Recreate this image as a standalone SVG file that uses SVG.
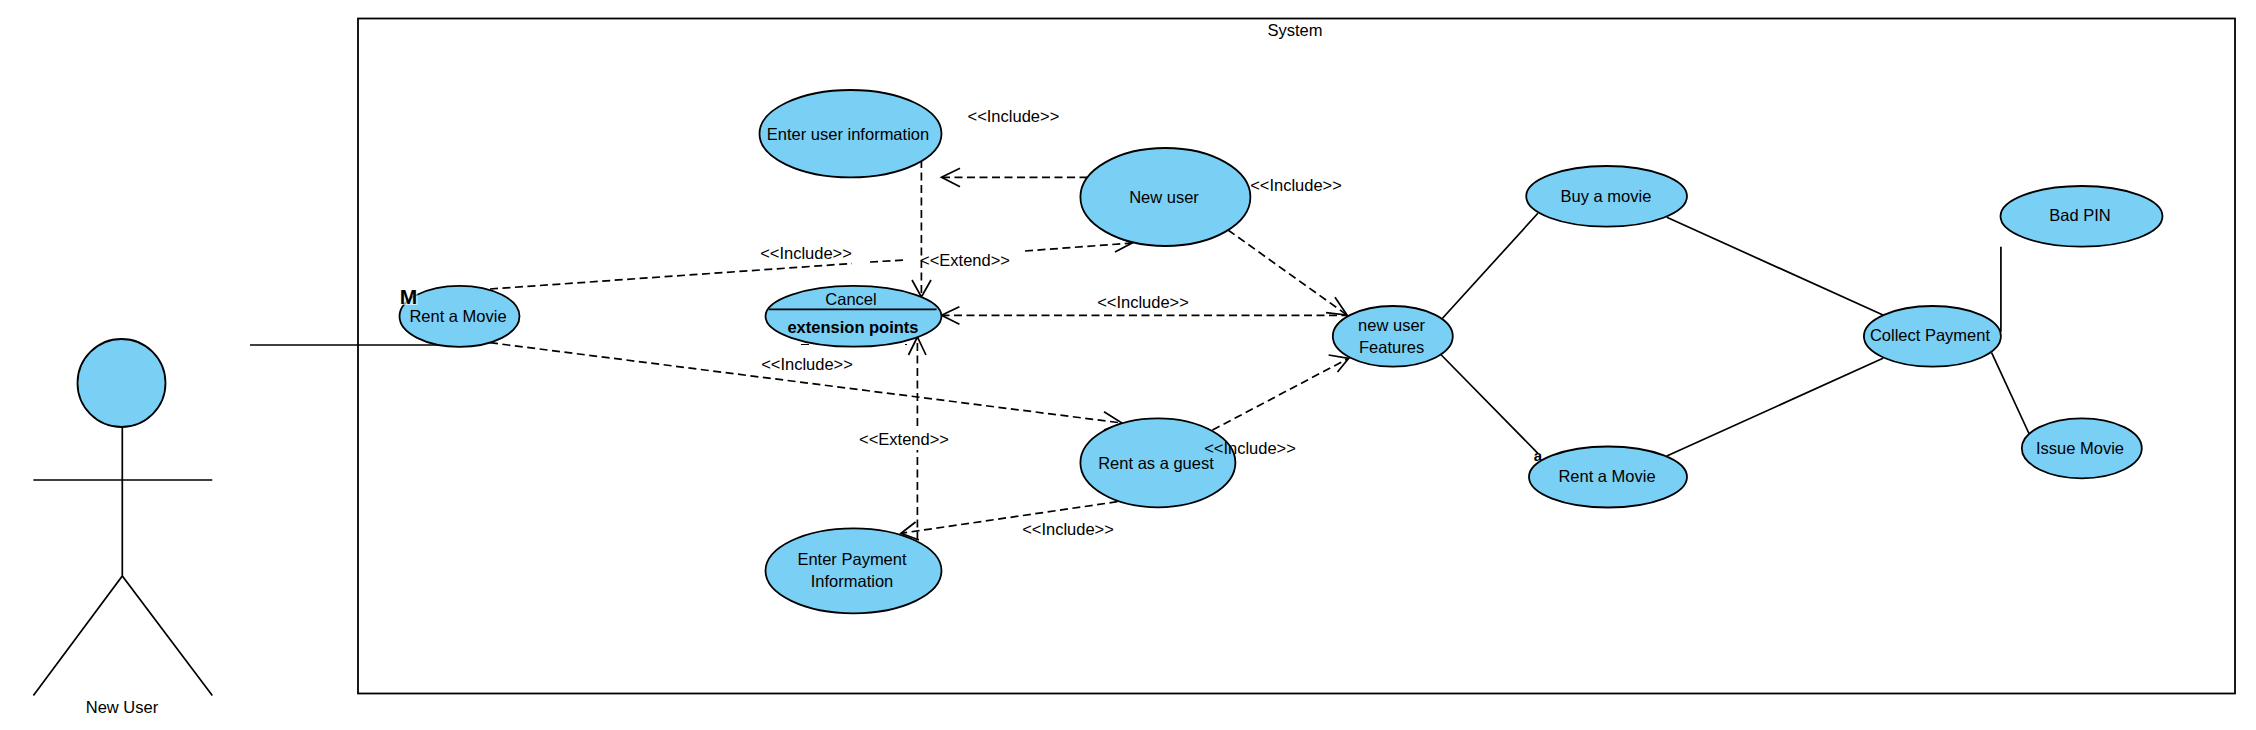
<svg xmlns="http://www.w3.org/2000/svg" width="2256" height="730" viewBox="0 0 2256 730">
<style>
text{font-family:"Liberation Sans",Arial,sans-serif;font-size:16.500px;fill:#000;text-anchor:middle}
.uc{fill:#7ACFF5;stroke:#000;stroke-width:1.800}
.ln{fill:none;stroke:#000;stroke-width:1.700}
.da{fill:none;stroke:#000;stroke-width:1.700;stroke-dasharray:8 4.500}
.b{font-weight:bold}
</style>
<rect width="2256" height="730" fill="#fff"/>
<g id="system"><rect x="358" y="18.500" width="1877" height="675" fill="none" stroke="#000" stroke-width="1.800"/><text x="1295" y="35.500">System</text></g>
<g id="connectors">
<path class="ln" d="M250 345H441"/>
<path class="da" d="M490 289L852 263.500M870 262L904 260M1025 251L1132 243"/>
<path class="ln" d="M1113 235L1132 243L1115 252"/>
<path class="da" d="M921.400 160V297"/>
<path class="ln" d="M912 280L921.400 297L931 280"/>
<path class="da" d="M1087.500 177.300H941.500"/>
<path class="ln" d="M960 168.300L941.500 177.300L960 186.700"/>
<path class="da" d="M1228 230L1347 315"/>
<path class="ln" d="M1335 297.300L1347 315L1326 312.700"/>
<path class="da" d="M941.500 315.300H1347"/>
<path class="ln" d="M959.400 306.700L941.500 315.300L959.400 324.300"/>
<path class="da" d="M917.400 540V450M917.400 426V337"/>
<path class="ln" d="M908.500 355L917.400 337L926 355"/>
<path class="da" d="M490 342.700L1122 423"/>
<path class="ln" d="M1104 411.700L1122 423L1104 430"/>
<path class="da" d="M1212.500 430L1348.700 358.300"/>
<path class="ln" d="M1328.600 355L1348.700 358.300L1337.500 372"/>
<path class="da" d="M1117.400 501.700L901 533.300"/>
<path class="ln" d="M915.600 522L901 533.300L919 540"/>
<path class="ln" d="M1442.500 318.300L1537.900 213.300M1441.300 355L1537.900 453.300M1666.800 217.300L1883 315M1666.800 456L1883 358.300M2000.900 246.700V331.700M1991.600 352.700L2029.200 434"/>
<path d="M801 344.500H809M820 344.500H822M851 344.500H853M875 344.500H881M905 344.500H907" fill="none" stroke="#000" stroke-width="1"/>
</g>
<g id="actor-new-user"><ellipse class="uc" cx="121.500" cy="383" rx="44" ry="44"/><path class="ln" d="M122.300 427V576M33.400 480H212.300M33.400 695.500L122.300 576L212.300 695.500"/><text x="122" y="713">New User</text></g>
<g id="uc-rent-a-movie"><ellipse class="uc" cx="459.500" cy="316.300" rx="60" ry="30.500"/><text x="458" y="322">Rent a Movie</text><rect x="399.500" y="288" width="18" height="17" fill="#fff" opacity="0.600"/><text class="b" x="408.500" y="303.500" style="font-size:21px">M</text></g>
<g id="uc-enter-user-information"><ellipse class="uc" cx="850.500" cy="133.700" rx="91" ry="43.700"/><text x="848" y="139.500">Enter user information</text></g>
<g id="uc-new-user"><ellipse class="uc" cx="1165.400" cy="197" rx="85" ry="49"/><text x="1164" y="203">New user</text></g>
<g id="uc-cancel"><ellipse class="uc" cx="853.500" cy="316.300" rx="88" ry="30.400"/><path class="ln" d="M769 309.300H936.600"/><text x="851" y="304.500">Cancel</text><text class="b" x="853" y="332.500">extension points</text></g>
<g id="uc-rent-as-a-guest"><ellipse class="uc" cx="1157.900" cy="462.800" rx="77.500" ry="44.500"/><text x="1156" y="469">Rent as a guest</text></g>
<g id="uc-enter-payment"><ellipse class="uc" cx="853.500" cy="570.800" rx="88" ry="42.500"/><text x="852" y="565">Enter Payment</text><text x="852" y="587">Information</text></g>
<g id="uc-new-user-features"><ellipse class="uc" cx="1392.800" cy="336.300" rx="60" ry="30.300"/><text x="1391.600" y="331">new user</text><text x="1391.600" y="353">Features</text></g>
<g id="uc-buy-a-movie"><ellipse class="uc" cx="1606.600" cy="196.300" rx="80.400" ry="30.300"/><text x="1606" y="202">Buy a movie</text></g>
<g id="uc-rent-a-movie-2"><ellipse class="uc" cx="1608" cy="477" rx="79" ry="30.500"/><text x="1607" y="482">Rent a Movie</text><text class="b" x="1538" y="461" style="font-size:15px">a</text></g>
<g id="uc-collect-payment"><ellipse class="uc" cx="1932.400" cy="336.300" rx="68.500" ry="30.300"/><text x="1930" y="341">Collect Payment</text></g>
<g id="uc-bad-pin"><ellipse class="uc" cx="2081.500" cy="216.300" rx="81" ry="30.300"/><text x="2080" y="221">Bad PIN</text></g>
<g id="uc-issue-movie"><ellipse class="uc" cx="2081.800" cy="448.300" rx="60" ry="30"/><text x="2080" y="454">Issue Movie</text></g>
<g id="labels">
<text x="1013.400" y="121.500">&lt;&lt;Include&gt;&gt;</text>
<text x="1296" y="191">&lt;&lt;Include&gt;&gt;</text>
<text x="806" y="258.500">&lt;&lt;Include&gt;&gt;</text>
<text x="965" y="266">&lt;&lt;Extend&gt;&gt;</text>
<text x="1143" y="308">&lt;&lt;Include&gt;&gt;</text>
<text x="807" y="370">&lt;&lt;Include&gt;&gt;</text>
<text x="904" y="445">&lt;&lt;Extend&gt;&gt;</text>
<text x="1250" y="454">&lt;&lt;Include&gt;&gt;</text>
<text x="1068" y="535">&lt;&lt;Include&gt;&gt;</text>
</g>
</svg>
